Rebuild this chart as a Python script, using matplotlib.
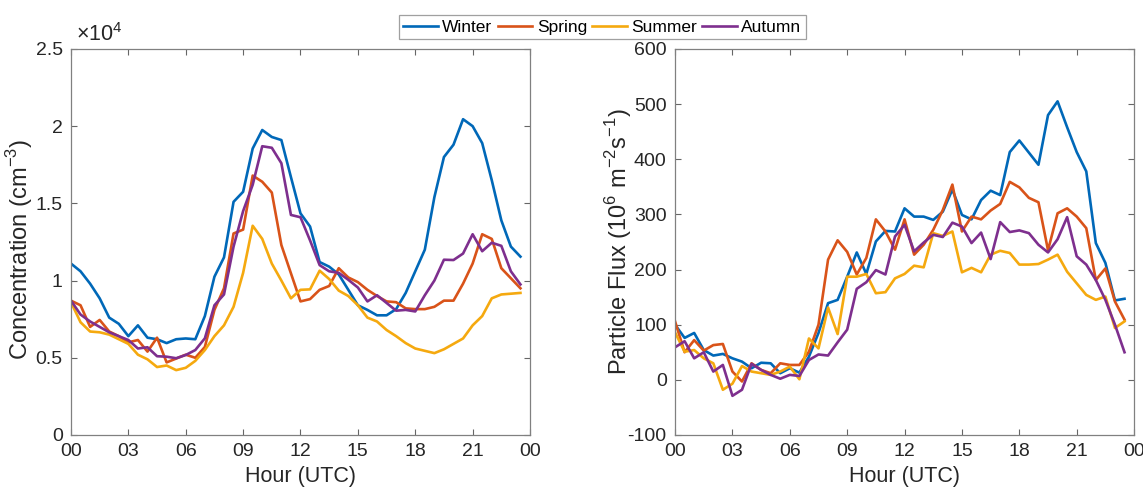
import numpy as np
import matplotlib
matplotlib.use('Agg')
import matplotlib.pyplot as plt
from matplotlib.ticker import FuncFormatter

plt.rcParams['font.family'] = ['Liberation Sans', 'DejaVu Sans']
plt.rcParams['axes.unicode_minus'] = False
plt.rcParams['mathtext.fontset'] = 'custom'
plt.rcParams['mathtext.rm'] = 'Liberation Sans'

# half-hourly bins, 00:00 .. 23:30 UTC
hours = np.arange(48) * 0.5

# number concentration, in units of 1e4 cm^-3
conc_winter = [1.11, 1.06, 0.98, 0.885, 0.76, 0.72, 0.64, 0.71, 0.63, 0.62, 0.595, 0.62,
               0.625, 0.62, 0.77, 1.025, 1.15, 1.51, 1.575, 1.855, 1.975, 1.93, 1.91, 1.67,
               1.435, 1.35, 1.12, 1.09, 1.04, 0.94, 0.84, 0.81, 0.775, 0.775, 0.815, 0.92,
               1.06, 1.2, 1.54, 1.8, 1.88, 2.045, 2.0, 1.89, 1.65, 1.39, 1.22, 1.155]
conc_spring = [0.87, 0.84, 0.70, 0.745, 0.67, 0.64, 0.60, 0.615, 0.54, 0.63, 0.47, 0.495,
               0.52, 0.50, 0.57, 0.81, 0.95, 1.305, 1.33, 1.68, 1.64, 1.57, 1.23, 1.047,
               0.865, 0.88, 0.94, 0.965, 1.08, 1.02, 0.99, 0.94, 0.90, 0.865, 0.86, 0.82,
               0.815, 0.815, 0.83, 0.87, 0.87, 0.98, 1.11, 1.30, 1.27, 1.08, 1.015, 0.95]
conc_summer = [0.86, 0.73, 0.67, 0.665, 0.65, 0.62, 0.59, 0.52, 0.49, 0.44, 0.45, 0.42,
               0.435, 0.48, 0.55, 0.64, 0.71, 0.83, 1.05, 1.355, 1.27, 1.11, 1.0, 0.885,
               0.94, 0.943, 1.064, 1.01, 0.935, 0.90, 0.84, 0.76, 0.735, 0.68, 0.64, 0.595,
               0.56, 0.545, 0.53, 0.555, 0.59, 0.625, 0.71, 0.77, 0.885, 0.91, 0.915, 0.92]
conc_autumn = [0.87, 0.78, 0.735, 0.70, 0.665, 0.64, 0.615, 0.56, 0.568, 0.51, 0.507, 0.497,
               0.518, 0.55, 0.626, 0.84, 0.91, 1.22, 1.45, 1.62, 1.87, 1.86, 1.76, 1.425,
               1.41, 1.26, 1.10, 1.06, 1.05, 1.005, 0.955, 0.865, 0.905, 0.855, 0.805, 0.81,
               0.80, 0.905, 1.0, 1.135, 1.133, 1.175, 1.30, 1.19, 1.245, 1.225, 1.06, 0.975]

# particle flux, 1e6 m^-2 s^-1
flux_winter = [100, 76, 85, 54, 44, 47, 39, 33, 21, 31, 30, 12,
               21, 13, 42, 85, 139, 145, 187, 231, 192, 251, 270, 269,
               311, 296, 296, 290, 305, 345, 299, 291, 326, 343, 335, 413,
               434, 412, 390, 480, 505, 458, 413, 378, 248, 212, 144, 147]
flux_spring = [106, 50, 72, 53, 63, 65, 15, -3, 30, 18, 12, 30,
               27, 27, 51, 100, 218, 253, 232, 191, 221, 291, 269, 236,
               291, 227, 245, 272, 308, 354, 269, 296, 291, 307, 319, 359,
               349, 330, 322, 235, 302, 311, 296, 275, 181, 202, 142, 109]
flux_summer = [86, 51, 54, 39, 30, -18, -7, 25, 15, 12, 9, 15,
               24, 1, 75, 57, 131, 83, 187, 187, 192, 157, 159, 184,
               192, 207, 204, 266, 261, 269, 195, 203, 195, 227, 234, 230,
               209, 209, 210, 218, 227, 196, 175, 154, 145, 151, 94, 106]
flux_autumn = [59, 70, 39, 50, 15, 27, -29, -18, 29, 18, 9, 2,
               9, 7, 36, 46, 44, 68, 91, 165, 177, 199, 191, 260,
               281, 233, 249, 263, 259, 285, 278, 248, 267, 219, 286, 268,
               271, 266, 245, 231, 255, 295, 224, 209, 181, 145, 100, 50]

seasons = ['Winter', 'Spring', 'Summer', 'Autumn']
colors = ['#0068B8', '#D95319', '#F5A90F', '#7E2F8E']
xticks = [0, 3, 6, 9, 12, 15, 18, 21, 24]
xticklabels = ['00', '03', '06', '09', '12', '15', '18', '21', '00']

fig = plt.figure(figsize=(11.43, 4.92), dpi=100)
ax1 = fig.add_axes([0.0621, 0.1159, 0.4016, 0.7846])
ax2 = fig.add_axes([0.5906, 0.1159, 0.4016, 0.7846])

lines = []
for name, c, y in zip(seasons, colors, [conc_winter, conc_spring, conc_summer, conc_autumn]):
    l, = ax1.plot(hours, y, color=c, lw=1.9, label=name)
    lines.append(l)
for c, y in zip(colors, [flux_winter, flux_spring, flux_summer, flux_autumn]):
    ax2.plot(hours, y, color=c, lw=1.9)

ax1.set_ylim(0, 2.5)
ax1.set_yticks([0, 0.5, 1, 1.5, 2, 2.5])
ax1.yaxis.set_major_formatter(FuncFormatter(lambda v, p: '%g' % v))
ax1.set_ylabel('Concentration (cm$^{-3}$)', fontsize=17, color='#262626', va='center')
ax1.yaxis.set_label_coords(-0.112, 0.48)
ax1.text(0.01, 1.008, '\u00d710$^{4}$', transform=ax1.transAxes, fontsize=15.5,
         color='#262626', ha='left', va='bottom')

ax2.set_ylim(-100, 600)
ax2.set_yticks(range(-100, 601, 100))
ax2.set_ylabel('Particle Flux (10$^6$ m$^{-2}$s$^{-1}$)', fontsize=17, color='#262626', va='center')
ax2.yaxis.set_label_coords(-0.124, 0.5)

for ax in (ax1, ax2):
    ax.set_xlim(0, 24)
    ax.set_xticks(xticks)
    ax.set_xticklabels(xticklabels)
    ax.set_xlabel('Hour (UTC)', fontsize=15.5, color='#262626', labelpad=4)
    ax.tick_params(direction='in', top=True, right=True, length=4.5, width=0.8,
                   colors='#666666', labelcolor='#262626', labelsize=14, pad=6)
    for s in ax.spines.values():
        s.set_color('#808080')
        s.set_linewidth(0.9)

leg = fig.legend(lines, seasons, loc='center', bbox_to_anchor=(0.527, 0.945), ncol=4,
                 fontsize=12.5, frameon=True, fancybox=False, edgecolor='#888888',
                 handlelength=2.0, handletextpad=0.25, columnspacing=0.3,
                 borderpad=0.25, borderaxespad=0)
leg.get_frame().set_linewidth(0.9)

fig.savefig('out.png', dpi=100)
